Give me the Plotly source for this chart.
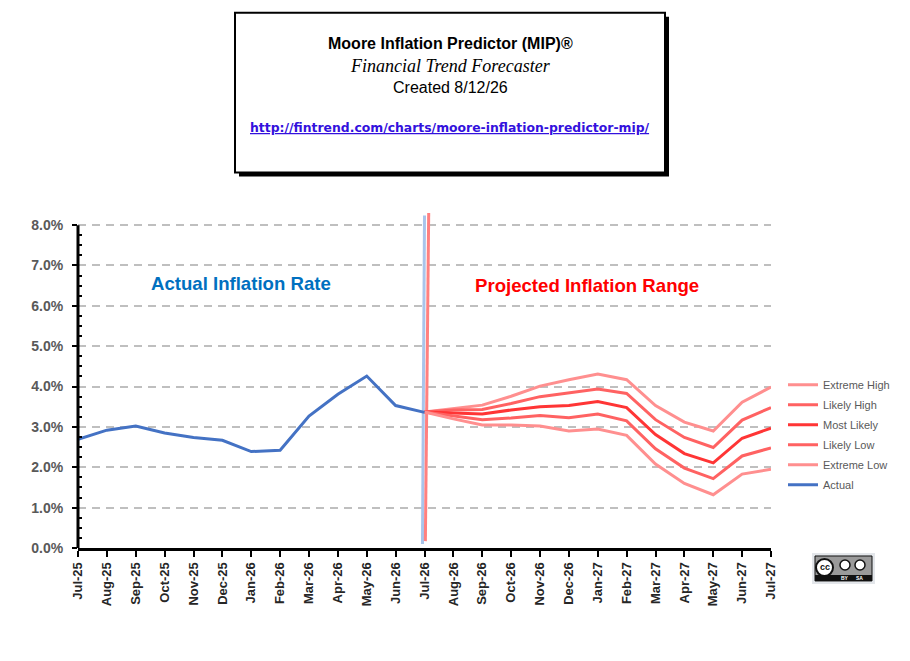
import plotly.graph_objects as go

months = ["Jul-25", "Aug-25", "Sep-25", "Oct-25", "Nov-25", "Dec-25", "Jan-26",
          "Feb-26", "Mar-26", "Apr-26", "May-26", "Jun-26", "Jul-26", "Aug-26",
          "Sep-26", "Oct-26", "Nov-26", "Dec-26", "Jan-27", "Feb-27", "Mar-27",
          "Apr-27", "May-27", "Jun-27", "Jul-27"]

# actual inflation, Jul-25 .. Jul-26 (percent)
actual = [2.69, 2.92, 3.02, 2.85, 2.74, 2.67, 2.39, 2.42, 3.27, 3.81, 4.26, 3.53, 3.36]

# projections, Jul-26 .. Jul-27 (percent)
extreme_high = [3.37, 3.45, 3.54, 3.76, 4.01, 4.17, 4.31, 4.17, 3.53, 3.12, 2.90, 3.61, 3.99]
likely_high = [3.37, 3.42, 3.43, 3.58, 3.75, 3.84, 3.94, 3.83, 3.18, 2.74, 2.49, 3.17, 3.48]
most_likely = [3.37, 3.35, 3.32, 3.42, 3.50, 3.53, 3.63, 3.48, 2.81, 2.34, 2.11, 2.72, 2.97]
likely_low = [3.37, 3.27, 3.18, 3.22, 3.28, 3.23, 3.32, 3.15, 2.46, 1.98, 1.72, 2.28, 2.48]
extreme_low = [3.37, 3.20, 3.05, 3.05, 3.02, 2.90, 2.95, 2.79, 2.08, 1.60, 1.32, 1.83, 1.95]

# the two "now" marker lines at Jul-26
now_blue_x = [11.93, 12.0]
now_blue_y = [0.10, 8.24]
now_red_x = [12.03, 12.145]
now_red_y = [0.17, 8.30]

y_ticks = [0, 1, 2, 3, 4, 5, 6, 7, 8]

x_act = list(range(0, 13))
x_proj = list(range(12, 25))

fig = go.Figure()

fig.add_trace(go.Scatter(x=now_blue_x, y=now_blue_y, mode="lines", showlegend=False,
                         line=dict(color="#a9c4eb", width=3), hoverinfo="skip"))
fig.add_trace(go.Scatter(x=now_red_x, y=now_red_y, mode="lines", showlegend=False,
                         line=dict(color="#ff8080", width=3), hoverinfo="skip"))

series = [("Extreme High", extreme_high, "#ff8f8f"),
          ("Likely High", likely_high, "#ff6262"),
          ("Most Likely", most_likely, "#ff3535"),
          ("Likely Low", likely_low, "#ff6262"),
          ("Extreme Low", extreme_low, "#ff8f8f")]
for name, vals, col in series:
    fig.add_trace(go.Scatter(x=x_proj, y=vals, mode="lines", name=name, legendgroup=name,
                             line=dict(color=col, width=3)))

fig.add_trace(go.Scatter(x=x_act, y=actual, mode="lines", name="Actual", legendgroup="Actual",
                         line=dict(color="#4472c4", width=3)))

# page body has an 8px margin, so screen positions are shifted by OFF
OFF = 8
L, T, W, H = 70, 202.5, 693, 337.5


def px(x):
    return (x - OFF - L) / W


def py(y):
    return (T + H - (y - OFF)) / H


shapes = [
    # y axis line (0% to 8%)
    dict(type="line", xref="paper", yref="y", x0=0, x1=0, y0=0, y1=8,
         line=dict(color="black", width=3)),
    # title box with shadow
    dict(type="rect", xref="paper", yref="paper", x0=px(239), x1=px(669), y0=py(16), y1=py(176),
         fillcolor="black", line=dict(width=0)),
    dict(type="rect", xref="paper", yref="paper", x0=px(235), x1=px(665), y0=py(12), y1=py(172),
         fillcolor="white", line=dict(color="black", width=2)),
    # cc badge
    dict(type="rect", xref="paper", yref="paper", x0=px(812), x1=px(875), y0=py(553), y1=py(584),
         fillcolor="#e3e6ea", line=dict(width=0)),
    dict(type="rect", xref="paper", yref="paper", x0=px(815), x1=px(872), y0=py(556), y1=py(581),
         fillcolor="#9a9a9a", line=dict(color="#111", width=1)),
    dict(type="rect", xref="paper", yref="paper", x0=px(815), x1=px(872), y0=py(575), y1=py(581),
         fillcolor="#111", line=dict(width=0)),
    dict(type="circle", xref="paper", yref="paper", x0=px(816), x1=px(833), y0=py(559), y1=py(576),
         fillcolor="white", line=dict(color="#111", width=2)),
    dict(type="circle", xref="paper", yref="paper", x0=px(840), x1=px(850), y0=py(560), y1=py(570),
         fillcolor="white", line=dict(color="#111", width=1.5)),
    dict(type="circle", xref="paper", yref="paper", x0=px(855), x1=px(865), y0=py(560), y1=py(570),
         fillcolor="white", line=dict(color="#111", width=1.5)),
]

annotations = [
    dict(text="<b>Moore Inflation Predictor (MIP)®</b>", x=px(450), y=py(43),
         font=dict(family="Arial", size=16, color="black")),
    dict(text="<i>Financial Trend Forecaster</i>", x=px(450), y=py(65),
         font=dict(family="Liberation Serif", size=18, color="black")),
    dict(text="Created 8/12/26", x=px(450), y=py(87),
         font=dict(family="Arial", size=16, color="black")),
    dict(text="<b><u>http://fintrend.com/charts/moore-inflation-predictor-mip/</u></b>",
         x=px(450), y=py(127), font=dict(family="DejaVu Sans", size=12.4, color="#3311dd")),
    dict(text="<b>cc</b>", x=px(824.5), y=py(567.5),
         font=dict(family="Arial", size=9, color="#111")),
    dict(text="<b>BY</b>", x=px(845), y=py(578.5), font=dict(family="Arial", size=5, color="white")),
    dict(text="<b>SA</b>", x=px(860), y=py(578.5), font=dict(family="Arial", size=5, color="white")),
]
for a in annotations:
    a.update(xref="paper", yref="paper", showarrow=False, xanchor="center", yanchor="middle")

annotations += [
    dict(text="<b>Actual Inflation Rate</b>", x=5.64, y=6.56, xref="x", yref="y", showarrow=False,
         font=dict(family="Arial", size=18.6, color="#0070c0")),
    dict(text="<b>Projected Inflation Range</b>", x=17.63, y=6.51, xref="x", yref="y",
         showarrow=False, font=dict(family="Arial", size=18.6, color="#ff0000")),
]

fig.update_layout(
    width=910, height=661,
    margin=dict(l=L, r=910 - L - W, t=T, b=661 - T - H),
    paper_bgcolor="white", plot_bgcolor="white",
    showlegend=True,
    legend=dict(x=px(783), y=py(370), xanchor="left", yanchor="top", tracegroupgap=1,
                font=dict(family="Arial", size=11, color="#595959"), bgcolor="rgba(0,0,0,0)"),
    shapes=shapes, annotations=annotations,
    xaxis=dict(range=[0, 24], tickmode="array", tickvals=list(range(25)), ticktext=months,
               tickangle=-90, showgrid=False, zeroline=False, showline=True,
               linecolor="black", linewidth=3, ticks="outside", ticklen=6, tickwidth=2,
               tickcolor="black",
               tickfont=dict(family="Arial", size=13, color="#262626", weight="bold")),
    yaxis=dict(range=[0, 8.35], tickmode="array", tickvals=y_ticks,
               ticktext=[f"{v:.1f}%" for v in y_ticks], showline=False, zeroline=False,
               showgrid=True, gridcolor="#bfbfbf", gridwidth=2, griddash="8px,6px",
               ticks="outside", ticklen=5, tickwidth=2, tickcolor="black", ticklabelstandoff=6,
               tickfont=dict(family="Arial", size=14, color="#595959", weight="bold"),
               minor=dict(tickmode="array",
                          tickvals=[i * 0.25 for i in range(33) if i % 4],
                          ticks="inside", ticklen=4, tickwidth=2, tickcolor="black",
                          showgrid=False)),
    yaxis2=dict(range=[0, 8.35], overlaying="y", anchor="x", side="left", tickmode="array",
                tickvals=y_ticks, ticks="inside", ticklen=5, tickwidth=2,
                tickcolor="black", showticklabels=False, showgrid=False, zeroline=False,
                showline=False),
)

fig.write_html("out.html")
